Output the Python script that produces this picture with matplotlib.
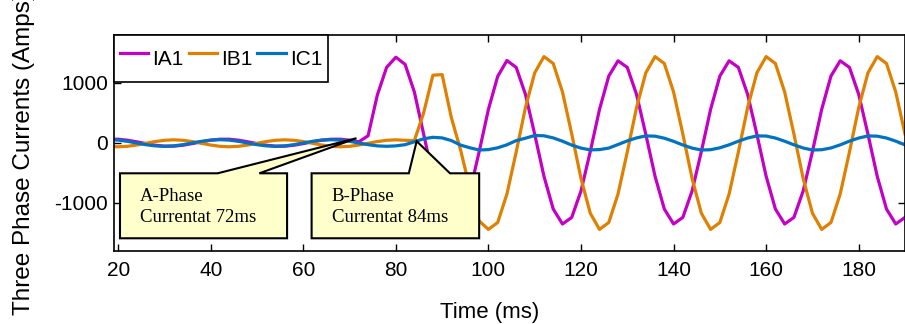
import numpy as np
import matplotlib
matplotlib.use("Agg")
import matplotlib.pyplot as plt
from matplotlib.patches import Polygon

# sample times (ms), 2 ms step
time_ms = np.arange(18, 191, 2)

# phase currents (Amps)
ia1 = [63, 63, 47, 20, -10, -37, -53, -53, -37, -10, 20, 47,
       63, 63, 47, 20, -10, -37, -53, -53, -37, -10, 20, 47,
       63, 63, 47, 20, 120, 800, 1260, 1430,
       1310, 850, 150, -560, -1110, -1370, -1260, -810, -145, 560, 1110, 1375,
       1260, 810, 145, -555, -1100, -1350, -1240, -800, -143, 560, 1115, 1370,
       1260, 810, 145, -555, -1100, -1350, -1240, -800, -143, 560, 1115, 1370,
       1260, 810, 145, -555, -1100, -1350, -1240, -800, -143, 560, 1115, 1370,
       1260, 810, 145, -555, -1100, -1350, -1240]
ib1 = [-55, -63, -55, -34, -5, 24, 45, 53, 45, 24, -5, -34,
       -55, -63, -55, -34, -5, 24, 45, 53, 45, 24, -5, -34,
       -55, -63, -55, -34, -5, 24, 45, 53,
       45, 40, 500, 1130, 1140, 420, -120, -760, -1300,
       -1440, -1325, -850, -150, 590, 1170, 1440, 1325, 850, 150, -590, -1170,
       -1440, -1325, -850, -150, 590, 1170, 1440, 1325, 850, 150, -590, -1170,
       -1440, -1325, -850, -150, 590, 1170, 1440, 1325, 850, 150, -590, -1170,
       -1440, -1325, -850, -150, 590, 1170, 1440, 1325, 850, 150]
ic1 = [55, 48, 28, 0, -28, -48, -55, -48, -28, 0, 28, 48,
       55, 48, 28, 0, -28, -48, -55, -48, -28, 0, 28, 48,
       55, 48, 28, 0, -28, -48, -55, -48,
       -28, 20, 70, 95, 85, 40, -35, -80, -117, -110, -80, -30,
       40, 80, 125, 120, 85, 30, -35, -85, -115, -110, -85, -25,
       35, 85, 118, 114, 80, 28, -33, -85, -117, -112, -80, -30,
       30, 83, 118, 116, 83, 30, -30, -83, -117, -112, -83, -31,
       31, 83, 118, 114, 83, 31, -31]

series_names = ["IA1", "IB1", "IC1"]
series_colors = ["#C400C4", "#E08000", "#0072C0"]

callout_text = ["A-Phase\nCurrentat 72ms", "B-Phase\nCurrentat 84ms"]
callout_tip = [(71.5, 80), (84.5, 30)]

plt.rcParams["font.family"] = ["Liberation Sans", "DejaVu Sans"]
plt.rcParams["axes.unicode_minus"] = False

fig = plt.figure(figsize=(9.05, 3.24), dpi=100)
ax = fig.add_axes([113.5 / 905, 1 - 251 / 324, 1 - 113.5 / 905, (251 - 35) / 324])

for vals, name, col in zip((ia1, ib1, ic1), series_names, series_colors):
    ax.plot(time_ms, vals, color=col, lw=2.3, label=name, solid_joinstyle="round")

ax.set_xlim(19, 190)
ax.set_ylim(-1800, 1800)
ax.set_xticks(np.arange(20, 190, 20))
ax.set_yticks([-1000, 0, 1000])
ax.tick_params(direction="in", top=True, right=True, length=5, width=1,
               labelsize=15)
ax.tick_params(axis="y", pad=4)
ax.tick_params(axis="x", pad=7)
for sp in ax.spines.values():
    sp.set_linewidth(1.2)

ax.set_xlabel("Time (ms)", fontsize=16)
ax.xaxis.set_label_coords((490 - 113.5) / (905 - 113.5), -0.237)
ax.xaxis.label.set_va("top")
ax.set_ylabel("Three Phase Currents (Amps)", fontsize=17.5)
ax.yaxis.set_label_coords(-0.099, 0.452)

leg = ax.legend(ncol=3, loc="upper left", bbox_to_anchor=(0, 1), borderaxespad=0,
                fontsize=15, handlelength=1.35, handletextpad=0.2,
                columnspacing=0.25, handleheight=2.2, borderpad=0.3,
                fancybox=False, framealpha=1, edgecolor="black")
leg.get_frame().set_linewidth(1.2)

# callout boxes (data coords)
boxes = [(20.4, 56.5, 41.5, 50.5), (61.8, 98.0, 82.8, 91.7)]
box_top, box_bot = -505, -1588
for (l, r, b1, b2), tip, txt in zip(boxes, callout_tip, callout_text):
    pts = [(l, box_bot), (l, box_top), (b1, box_top), tip, (b2, box_top),
           (r, box_top), (r, box_bot)]
    ax.add_patch(Polygon(pts, closed=True, fc="#FFFFCC", ec="black", lw=1.5,
                         zorder=5))
    ax.text(l + 4.3, -1065, txt, family="Liberation Serif", fontsize=13.5,
            va="center", ha="left", linespacing=1.35, zorder=6)

fig.savefig("out.png", dpi=100)
